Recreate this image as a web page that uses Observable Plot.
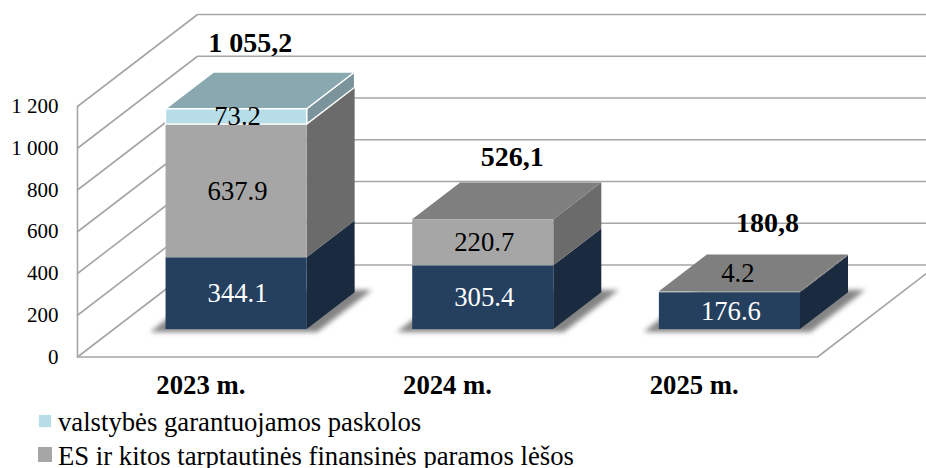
<!DOCTYPE html>
<html lang="lt">
<head>
<meta charset="utf-8">
<script src="https://cdn.jsdelivr.net/npm/d3@7"></script>
<script src="https://cdn.jsdelivr.net/npm/@observablehq/plot@0.6"></script>
<style>
  html, body { margin: 0; padding: 0; background: #fff; width: 926px; height: 468px; overflow: hidden; }
  #chart svg { display: block; overflow: hidden; }
  #legend { font-family: "Liberation Serif", serif; font-size: 26.7px; color: #000; padding-top: 0.5px; }
  .row { height: 34.3px; line-height: 34.3px; white-space: nowrap; position: relative; padding-left: 58px; }
  .sw { position: absolute; }
  .row:nth-child(1) .sw { left: 39px; top: 10.5px; width: 12px; height: 12px; box-shadow: 0 0 1.5px #dff0f5; }
  .row:nth-child(2) .sw { left: 38px; top: 8.2px; width: 14px; height: 15px; }
</style>
</head>
<body>
<div id="chart"></div>
<div id="legend"></div>
<script>
// ---- data ----
const categories = ["2023 m.", "2024 m.", "2025 m."];
const seriesNavy = [344.1, 305.4, 176.6];
const seriesGray = [637.9, 220.7, 4.2];
const seriesBlue = [73.2, 0, 0];
const totalLabels = ["1 055,2", "526,1", "180,8"];
const yTicks = [0, 200, 400, 600, 800, 1000, 1200];
const legendLabels = ["valstybės garantuojamos paskolos", "ES ir kitos tarptautinės finansinės paramos lėšos"];

// ---- styling and oblique-projection settings ----
const faces = [
  {values: seriesNavy, front: "#25405f", side: "#1a2b40", top: "#1a2b40", text: "#fff", edge: "none"},
  {values: seriesGray, front: "#a6a6a6", side: "#6b6b6b", top: "#7f7f7f", text: "#000", edge: "none"},
  {values: seriesBlue, front: "#b7dde8", side: "#7b939a", top: "#8aa8b0", text: "#000", edge: "#fff"}
];
const depthX = 0.4865, depthY = 440.7;           // axis depth, in x and y scale units
const z0 = 0.298, z1 = 0.698;                    // bar depth span
const barPad = 0.214;                            // gap either side of a bar, in categories
const totalShiftX = [0.70, 0.763, 0.797];        // total label placement within a category
const totalLift = [447, 430, 463];               // total label height above the stack
const grid = "#a6a6a6";
const serif = "Liberation Serif";

const px = (x, z) => x + z * depthX;
const py = (v, z) => v + z * depthY;

// stack
const segments = [];
categories.forEach((c, i) => {
  let base = 0;
  faces.forEach((f, s) => {
    const v = f.values[i];
    if (v > 0) segments.push({i, s, f, v, lo: base, hi: base + v});
    base += v;
  });
});
const totals = categories.map((c, i) => d3.sum(faces, f => f.values[i]));

const marks = [];

// wall grid lines: front edge, back corner, along the back wall
const gridPts = yTicks.flatMap(v => [
  {v, x: 0, z: 0}, {v, x: 0, z: 1}, {v, x: 3, z: 1}
]);
marks.push(Plot.line(gridPts, {x: d => px(d.x, d.z), y: d => py(d.v, d.z), z: "v", stroke: grid, strokeWidth: 1.6}));
// left wall edge and floor outline
const outline = [{x: 0, z: 0, v: 1200}, {x: 0, z: 0, v: 0}, {x: 3, z: 0, v: 0}, {x: 3, z: 1, v: 0}];
marks.push(Plot.line(outline, {x: d => px(d.x, d.z), y: d => py(d.v, d.z), stroke: grid, strokeWidth: 1.6}));

// soft floor shadows
categories.forEach((c, i) => {
  const pts = [0.266, 0.723].map(z => ({z}));
  marks.push(Plot.areaX(pts, {
    y: d => py(0, d.z),
    x1: d => px(i + 0.167, d.z),
    x2: d => px(i + 0.844, d.z),
    fill: "#6f6f6f", fillOpacity: 0.85, imageFilter: "blur(2.5px)"
  }));
});

// bar faces
for (const d of segments) {
  const right = d.i + 1 - barPad, left = d.i + barPad;
  const depth = [z0, z1].map(z => ({z}));
  marks.push(Plot.areaY(depth, {
    x: p => px(right, p.z), y1: p => py(d.lo, p.z), y2: p => py(d.hi, p.z),
    fill: d.f.side, stroke: d.f.edge, strokeWidth: 1.4
  }));
  const isTop = d.s === 2 || faces[d.s + 1].values[d.i] === 0;
  if (isTop) {
    marks.push(Plot.areaX(depth, {
      y: p => py(d.hi, p.z), x1: p => px(left, p.z), x2: p => px(right, p.z),
      fill: d.f.top, stroke: d.f.edge, strokeWidth: 1.4
    }));
  }
  marks.push(Plot.rect([d], {
    x1: () => px(left, z0), x2: () => px(right, z0),
    y1: () => py(d.lo, z0), y2: () => py(d.hi, z0),
    fill: d.f.front, stroke: d.f.edge, strokeWidth: 1.4
  }));
}

// value labels on the front faces (a sliver is labelled on the top face instead)
const thin = d => d.v < 10;
marks.push(Plot.text(segments.filter(d => !thin(d)), {
  x: d => px(d.i + 0.5, z0), y: d => py((d.lo + d.hi) / 2, z0), dx: 1,
  text: d => d.v.toFixed(1), fill: d => d.f.text === "#fff" ? "#ffffff" : "#000000",
  fontSize: 26.7, fontFamily: serif
}));
marks.push(Plot.text(segments.filter(thin), {
  x: d => px(d.i + 0.5, z0), y: d => py(d.hi, 0.5), dx: 8,
  text: d => d.v.toFixed(1), fill: "#000000", fontSize: 26.7, fontFamily: serif
}));

// totals above each stack
marks.push(Plot.text(categories, {
  x: (c, i) => i + totalShiftX[i], y: (c, i) => totals[i] + totalLift[i],
  text: (c, i) => totalLabels[i], fontWeight: "bold", fontSize: 28, fontFamily: serif, fill: "#000000"
}));

// axes
marks.push(Plot.axisY({
  ticks: yTicks, tickSize: 0, tickPadding: 19, label: null, fontSize: 21, fontFamily: serif, fill: "#000",
  tickFormat: d => d3.format(",")(d).replace(",", " ")
}));
marks.push(Plot.axisX({
  ticks: categories.map((c, i) => i + 0.5), tickSize: 0, tickPadding: 18, label: null,
  tickFormat: v => categories[Math.floor(v)], fontSize: 26.7, fontWeight: "bold", fontFamily: serif, fill: "#000"
}));

const chart = Plot.plot({
  width: 926, height: 404,
  marginLeft: 77, marginRight: 109, marginTop: 14, marginBottom: 47.5,
  x: {type: "linear", domain: [0, 3], range: [77, 817]},
  y: {type: "linear", domain: [0, 1200], range: [356.5, 106]},
  style: {fontFamily: serif, background: "#fff", color: "#000"},
  marks
});
document.getElementById("chart").append(chart);

// legend
const swatches = [faces[2].front, faces[1].front];
const legend = document.getElementById("legend");
legendLabels.forEach((label, i) => {
  const row = document.createElement("div");
  row.className = "row";
  const sw = document.createElement("span");
  sw.className = "sw";
  sw.style.background = swatches[i];
  row.append(sw, label);
  legend.append(row);
});
</script>
</body>
</html>
